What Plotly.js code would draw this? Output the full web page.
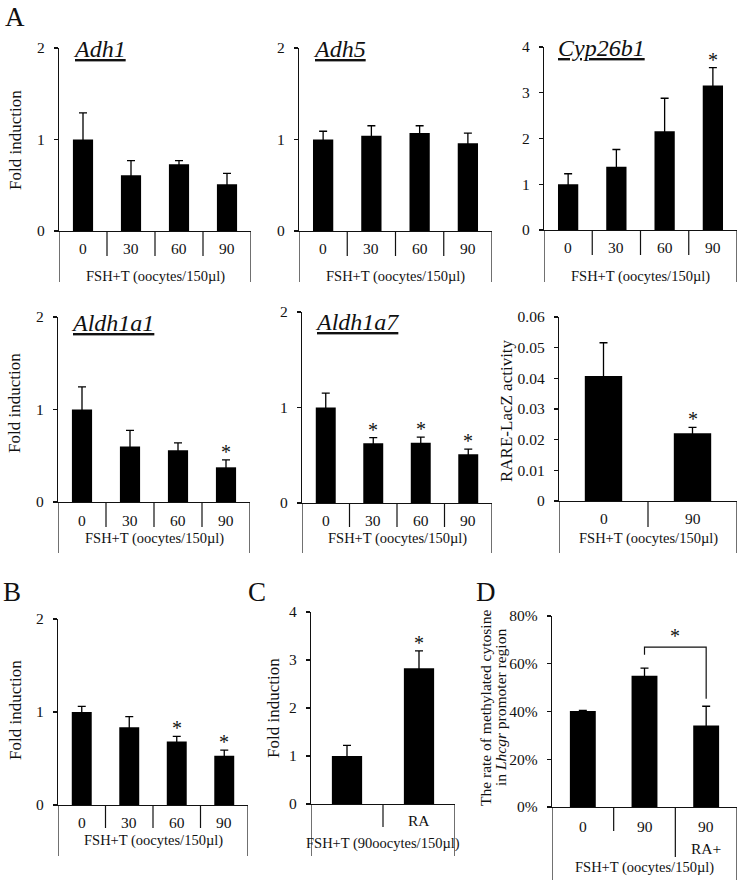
<!DOCTYPE html>
<html><head><meta charset="utf-8">
<script src="https://cdn.plot.ly/plotly-3.0.1.min.js"></script>
<style>html,body{margin:0;padding:0;background:#fff}</style>
</head><body><div id="chart" style="width:739px;height:884px"></div>
<script>
// ---------------- data ----------------
const doseCats = ['0', '30', '60', '90'];

const adh1Values = [1.00, 0.61, 0.73, 0.51];
const adh1Errors = [0.29, 0.16, 0.04, 0.12];
const adh1Stars = [false, false, false, false];

const adh5Values = [1.00, 1.04, 1.07, 0.96];
const adh5Errors = [0.09, 0.11, 0.08, 0.11];
const adh5Stars = [false, false, false, false];

const cyp26b1Values = [1.00, 1.38, 2.16, 3.16];
const cyp26b1Errors = [0.23, 0.38, 0.72, 0.39];
const cyp26b1Stars = [false, false, false, true];

const aldh1a1Values = [1.00, 0.60, 0.56, 0.375];
const aldh1a1Errors = [0.245, 0.175, 0.08, 0.08];
const aldh1a1Stars = [false, false, false, true];

const aldh1a7Values = [1.00, 0.625, 0.63, 0.51];
const aldh1a7Errors = [0.15, 0.06, 0.06, 0.055];
const aldh1a7Stars = [false, true, true, true];

const rareCats = ['0', '90'];
const rareValues = [0.0408, 0.0221];
const rareErrors = [0.0108, 0.0019];
const rareStars = [false, true];

const bValues = [1.00, 0.835, 0.683, 0.53];
const bErrors = [0.06, 0.115, 0.055, 0.06];
const bStars = [false, false, true, true];

const cCats = ['', 'RA'];
const cValues = [1.00, 2.83];
const cErrors = [0.22, 0.36];
const cStars = [false, true];

const dCats = ['0', '90', '90'];
const dSubCats = ['', '', 'RA+'];
const dValues = [0.402, 0.550, 0.341];
const dErrors = [0.003, 0.032, 0.081];
const dStars = [false, false, false];
const dBracket = {from: 1, to: 2, top: 0.67, leftEnd: 0.638, rightEnd: 0.453};

const fshLabel = 'FSH+T (oocytes/150µl)';
const fshLabelC = 'FSH+T (90oocytes/150µl)';

// ---------------- layout helpers ----------------
const W = 739, H = 884;
const FONT = '"Liberation Serif","Times New Roman",serif';
const INK = '#111';
const px = v => v / W;
const py = v => 1 - v / H;

const panels = [
  {title: 'Adh1', cats: doseCats, vals: adh1Values, errs: adh1Errors, stars: adh1Stars,
   x0: 59, x1: 251, yTop: 48, yBot: 231, ymax: 2, dtick: 1, titlePos: [71, 49],
   ytitle: {text: 'Fold induction', x: 15, y: 140}, labelY: 248, fshY: 276, fsh: fshLabel,
   sepBot: [256, 256, 256], tableBot: 282},
  {title: 'Adh5', cats: doseCats, vals: adh5Values, errs: adh5Errors, stars: adh5Stars,
   x0: 299, x1: 492, yTop: 48, yBot: 231, ymax: 2, dtick: 1, titlePos: [311, 49],
   labelY: 248, fshY: 276, fsh: fshLabel, sepBot: [256, 256, 256], tableBot: 282},
  {title: 'Cyp26b1', cats: doseCats, vals: cyp26b1Values, errs: cyp26b1Errors, stars: cyp26b1Stars,
   x0: 544, x1: 737, yTop: 47, yBot: 230, ymax: 4, dtick: 1, titlePos: [556, 48],
   labelY: 247, fshY: 276, fsh: fshLabel, sepBot: [255, 255, 255], tableBot: 282},
  {title: 'Aldh1a1', cats: doseCats, vals: aldh1a1Values, errs: aldh1a1Errors, stars: aldh1a1Stars,
   x0: 58, x1: 250, yTop: 317, yBot: 502, ymax: 2, dtick: 1, titlePos: [69, 323],
   ytitle: {text: 'Fold induction', x: 15, y: 403}, labelY: 520, fshY: 538, fsh: fshLabel,
   sepBot: [527, 527, 527], tableBot: 553},
  {title: 'Aldh1a7', cats: doseCats, vals: aldh1a7Values, errs: aldh1a7Errors, stars: aldh1a7Stars,
   x0: 302, x1: 492, yTop: 312, yBot: 503, ymax: 2, dtick: 1, titlePos: [313, 322],
   labelY: 520, fshY: 538, fsh: fshLabel, sepBot: [527, 527, 527], tableBot: 553},
  {cats: rareCats, vals: rareValues, errs: rareErrors, stars: rareStars,
   x0: 559, x1: 737, yTop: 317, yBot: 501, ymax: 0.06, dtick: 0.01,
   ytitle: {text: 'RARE-LacZ activity', x: 506, y: 410}, labelY: 518, fshY: 538, fsh: fshLabel,
   sepBot: [527], tableBot: 553},
  {cats: doseCats, vals: bValues, errs: bErrors, stars: bStars,
   x0: 58, x1: 248, yTop: 619, yBot: 805, ymax: 2, dtick: 1,
   ytitle: {text: 'Fold induction', x: 15, y: 710}, labelY: 822, fshY: 840, fsh: fshLabel,
   sepBot: [828, 828, 828], tableBot: 856},
  {cats: cCats, vals: cValues, errs: cErrors, stars: cStars,
   x0: 311, x1: 455, yTop: 612, yBot: 804, ymax: 4, dtick: 1,
   ytitle: {text: 'Fold induction', x: 273, y: 708}, labelY: 820, fshY: 843, fsh: fshLabelC,
   sepBot: [827], tableBot: 856},
  {cats: dCats, sub: dSubCats, subY: 848, vals: dValues, errs: dErrors, stars: dStars,
   x0: 552, x1: 737, yTop: 616, yBot: 807, ymax: 0.8, dtick: 0.2, tickformat: '.0%',
   labelY: 826, fshY: 867, fsh: fshLabel, sepBot: [831, 857], tableBot: 880, bracket: dBracket}
];

const data = [];
const layout = {
  width: W, height: H, margin: {l: 0, r: 0, t: 0, b: 0},
  paper_bgcolor: '#fff', plot_bgcolor: 'rgba(0,0,0,0)',
  showlegend: false, font: {family: FONT, color: INK, size: 15},
  annotations: [], shapes: []
};

panels.forEach((p, i) => {
  const k = i + 1;
  const xa = 'x' + k, ya = 'y' + k;
  const xName = 'xaxis' + (k === 1 ? '' : k);
  const yName = 'yaxis' + (k === 1 ? '' : k);
  const n = p.cats.length;
  const xs = p.cats.map((_, j) => j);

  data.push({
    type: 'bar', x: xs, y: p.vals, xaxis: xa, yaxis: ya, width: 0.42,
    marker: {color: '#000', line: {width: 0}},
    error_y: {type: 'data', array: p.errs, visible: true, color: '#000', thickness: 1.3, width: 4},
    hoverinfo: 'skip'
  });

  layout[xName] = {
    domain: [px(p.x0), px(p.x1)], anchor: ya, range: [-0.5, n - 0.5],
    showticklabels: false, ticks: '', showgrid: false, zeroline: false,
    showline: true, linecolor: INK, linewidth: 1.2, fixedrange: true
  };
  const yax = {
    domain: [py(p.yBot), py(p.yTop)], anchor: xa, range: [0, p.ymax], dtick: p.dtick, tick0: 0,
    showgrid: false, zeroline: false, showline: true, linecolor: INK, linewidth: 1.2,
    ticks: 'outside', ticklen: 4, tickwidth: 1.2, tickcolor: INK, ticklabelstandoff: 6,
    tickfont: {family: FONT, size: 15.5, color: INK}, fixedrange: true
  };
  if (p.tickformat) yax.tickformat = p.tickformat;
  layout[yName] = yax;

  // table lines under the axis
  const lineStyle = {color: INK, width: 1.2};
  [-0.5, n - 0.5].forEach(xv => layout.shapes.push({
    type: 'line', xref: xa, yref: 'paper', x0: xv, x1: xv, y0: py(p.yBot), y1: py(p.tableBot), line: lineStyle
  }));
  for (let j = 0; j < n - 1; j++) {
    layout.shapes.push({type: 'line', xref: xa, yref: 'paper', x0: j + 0.5, x1: j + 0.5,
      y0: py(p.yBot), y1: py(p.sepBot[j]), line: lineStyle});
  }

  // category labels
  p.cats.forEach((c, j) => {
    if (c) layout.annotations.push({xref: xa, yref: 'paper', x: j, y: py(p.labelY), text: c,
      showarrow: false, xanchor: 'center', yanchor: 'middle', font: {family: FONT, size: 15.5, color: INK}});
  });
  if (p.sub) p.sub.forEach((c, j) => {
    if (c) layout.annotations.push({xref: xa, yref: 'paper', x: j, y: py(p.subY), text: c,
      showarrow: false, xanchor: 'center', yanchor: 'middle', font: {family: FONT, size: 15.5, color: INK}});
  });
  layout.annotations.push({xref: 'paper', yref: 'paper', x: px((p.x0 + p.x1) / 2), y: py(p.fshY),
    text: p.fsh, showarrow: false, xanchor: 'center', yanchor: 'middle',
    font: {family: FONT, size: 14.5, color: INK}});

  // gene title
  if (p.title) layout.annotations.push({xref: 'paper', yref: 'paper', x: px(p.titlePos[0]), y: py(p.titlePos[1]),
    text: '<i><u>' + p.title + '</u></i>', showarrow: false, xanchor: 'left', yanchor: 'middle',
    font: {family: FONT, size: 24, color: INK}});

  // y title
  if (p.ytitle) layout.annotations.push({xref: 'paper', yref: 'paper', x: px(p.ytitle.x), y: py(p.ytitle.y),
    text: p.ytitle.text, textangle: -90, showarrow: false, xanchor: 'center', yanchor: 'middle',
    font: {family: FONT, size: 17, color: INK}});

  // significance stars
  p.stars.forEach((s, j) => {
    if (s) layout.annotations.push({xref: xa, yref: ya, x: j, y: p.vals[j] + p.errs[j], text: '*',
      showarrow: false, xanchor: 'center', yanchor: 'middle', yshift: 8,
      font: {family: FONT, size: 20, color: INK}});
  });

  // bracket
  if (p.bracket) {
    const b = p.bracket;
    layout.shapes.push({type: 'path', xref: xa, yref: ya,
      path: `M ${b.from} ${b.leftEnd} L ${b.from} ${b.top} L ${b.to} ${b.top} L ${b.to} ${b.rightEnd}`,
      line: {color: INK, width: 1.2}});
    layout.annotations.push({xref: xa, yref: ya, x: (b.from + b.to) / 2, y: b.top, text: '*',
      showarrow: false, xanchor: 'center', yanchor: 'middle', yshift: 11,
      font: {family: FONT, size: 20, color: INK}});
  }
});

// D y-axis title (two lines)
layout.annotations.push({xref: 'paper', yref: 'paper', x: px(485), y: py(708),
  text: 'The rate of methylated cytosine', textangle: -90, showarrow: false,
  xanchor: 'center', yanchor: 'middle', font: {family: FONT, size: 15.5, color: INK}});
layout.annotations.push({xref: 'paper', yref: 'paper', x: px(500), y: py(708),
  text: 'in <i>Lhcgr</i> promoter region', textangle: -90, showarrow: false,
  xanchor: 'center', yanchor: 'middle', font: {family: FONT, size: 15.5, color: INK}});

// panel letters
layout.annotations.push({xref: 'paper', yref: 'paper', x: px(3), y: 1, text: 'A', showarrow: false,
  xanchor: 'left', yanchor: 'top', font: {family: FONT, size: 27, color: INK}});
[['B', 12, 592], ['C', 257, 592], ['D', 486, 592]].forEach(([t, x, y]) => {
  layout.annotations.push({xref: 'paper', yref: 'paper', x: px(x), y: py(y), text: t, showarrow: false,
    xanchor: 'center', yanchor: 'middle', font: {family: FONT, size: 27, color: INK}});
});

Plotly.newPlot('chart', data, layout, {staticPlot: true, displayModeBar: false});
</script>
</body></html>
